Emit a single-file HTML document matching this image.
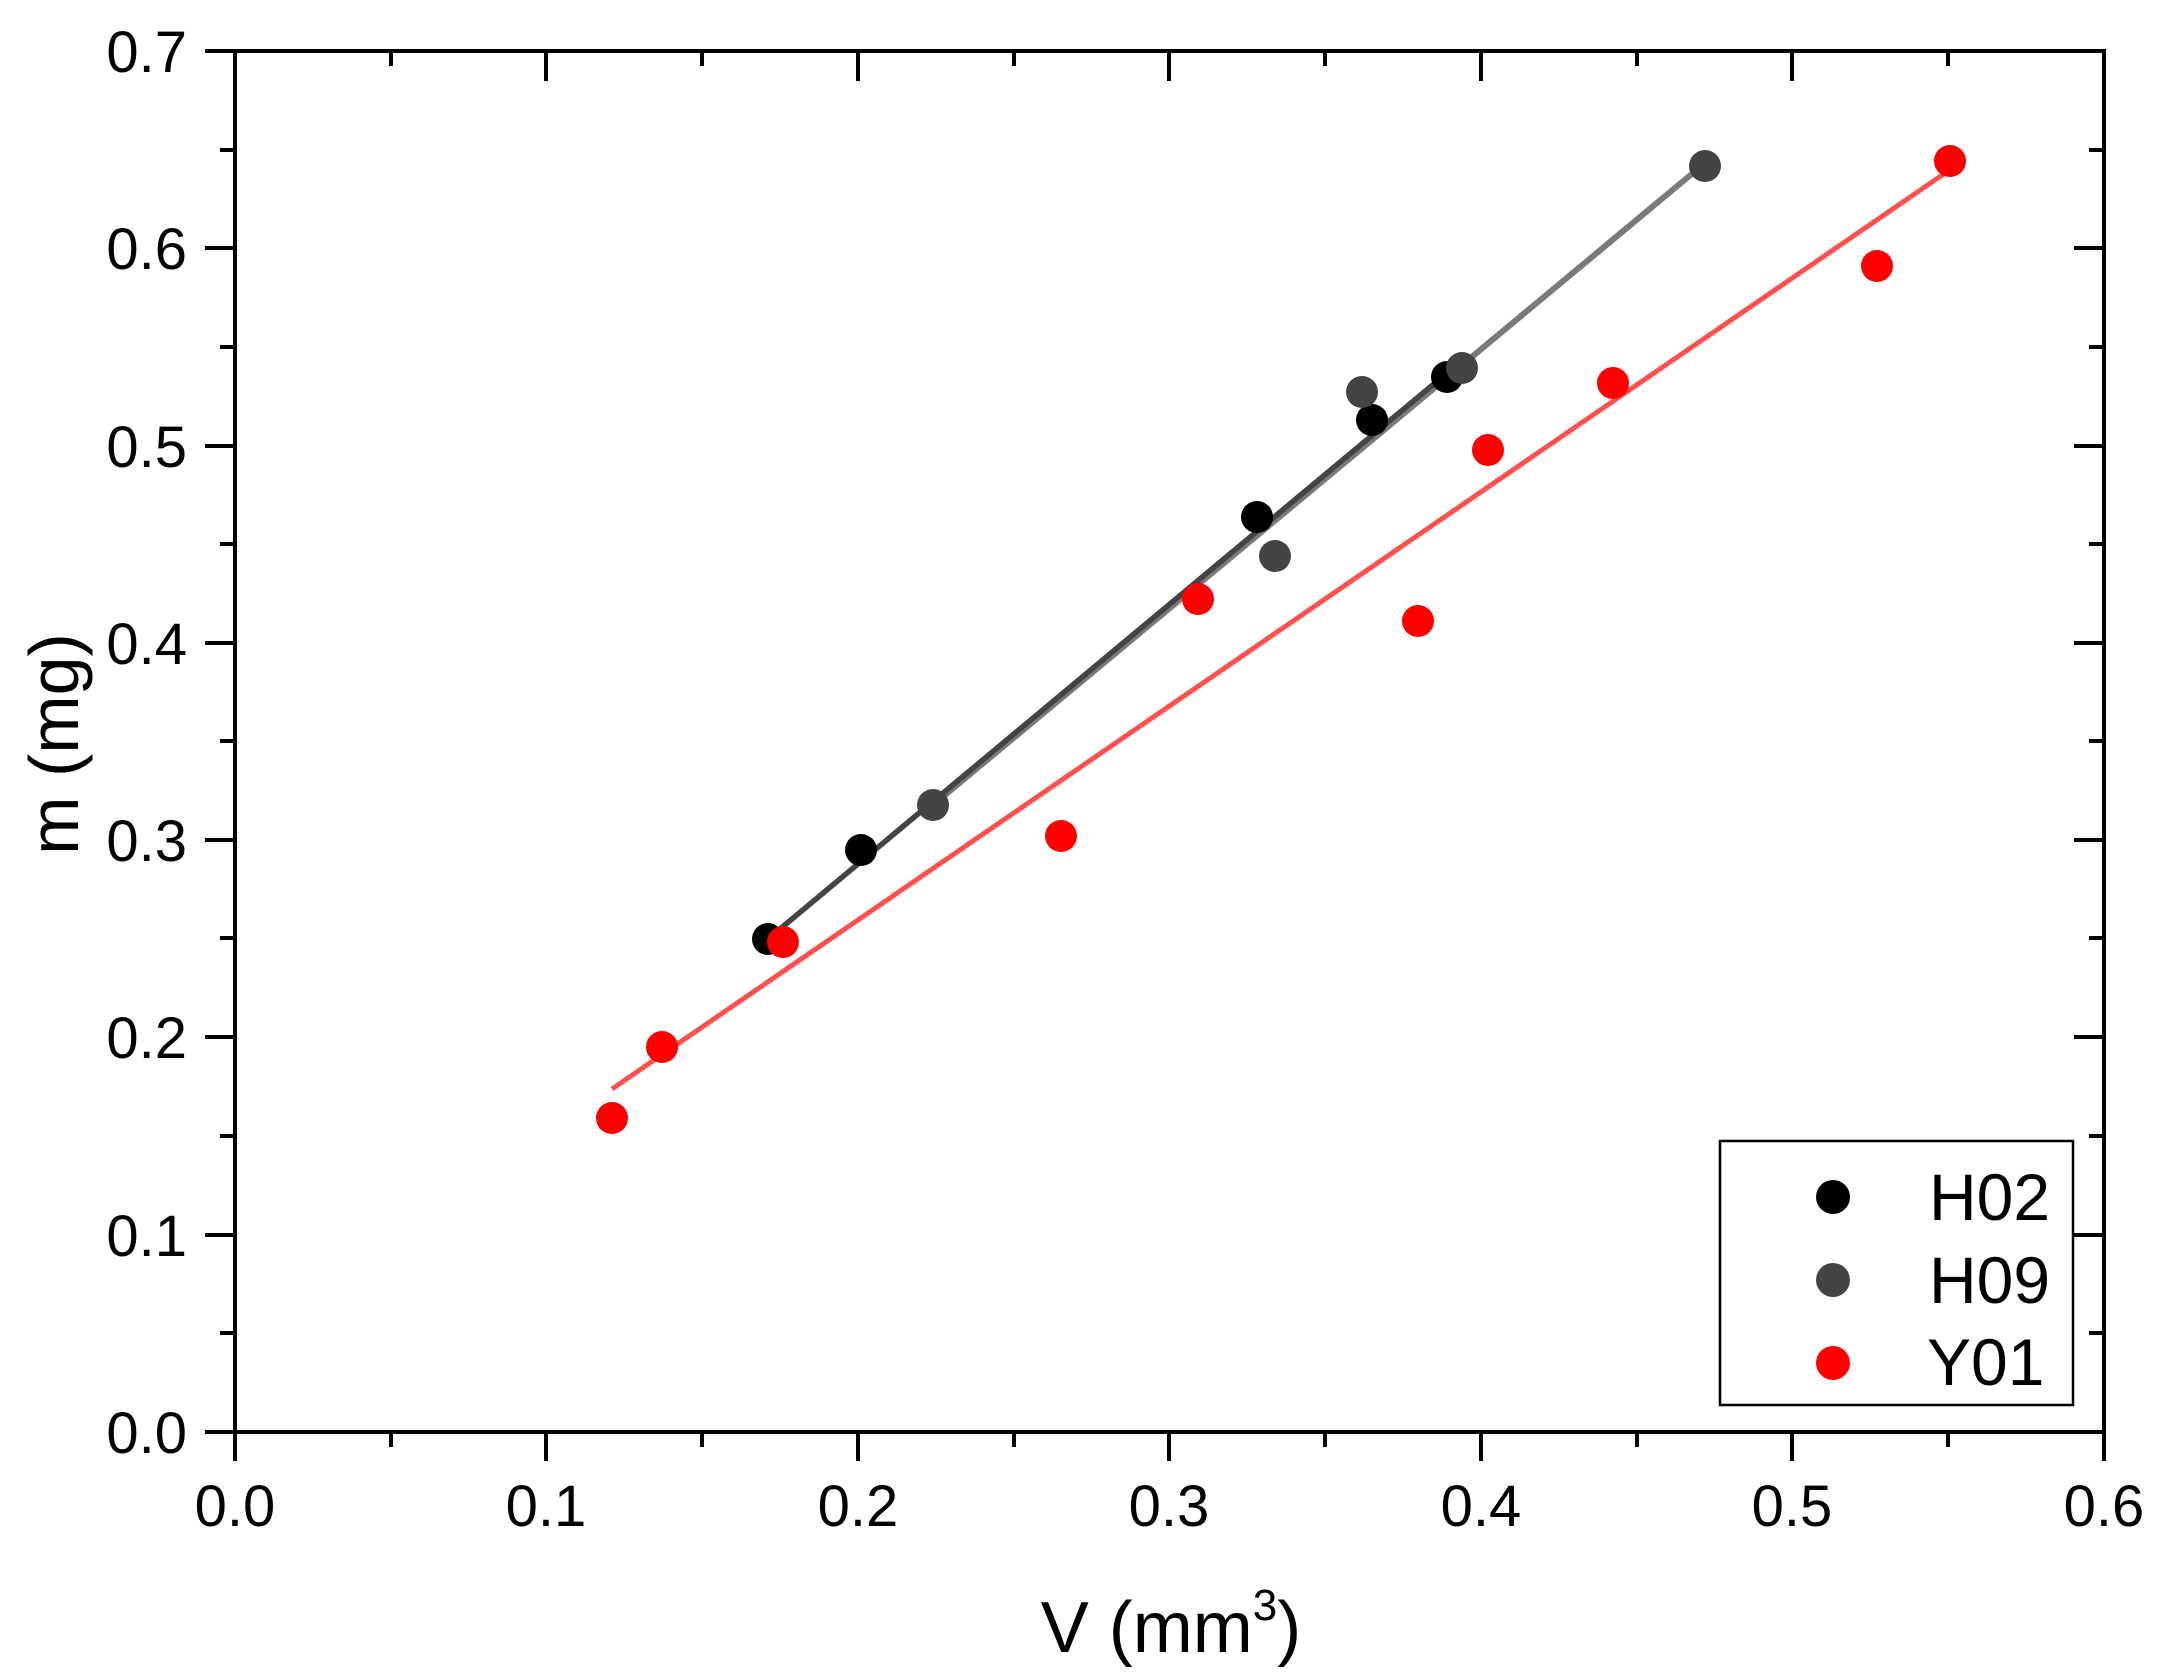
<!DOCTYPE html>
<html><head><meta charset="utf-8"><style>
html,body{margin:0;padding:0;background:#fff;}
svg{display:block;}
text{font-family:"Liberation Sans",Arial,sans-serif;fill:#000;}
</style></head><body>
<svg width="2160" height="1678" viewBox="0 0 2160 1678" xmlns="http://www.w3.org/2000/svg">
<rect width="2160" height="1678" fill="#fff"/>
<line x1="933" y1="805" x2="1705" y2="163" stroke="#7a7a7a" stroke-width="6"/>
<line x1="768" y1="939" x2="1447" y2="373" stroke="#444" stroke-width="5.5"/>
<line x1="612" y1="1089" x2="1951" y2="169" stroke="#ff5050" stroke-width="5"/>
<g fill="#000">
<circle cx="768" cy="939" r="16"/>
<circle cx="861" cy="850" r="16"/>
<circle cx="1257" cy="517" r="16"/>
<circle cx="1372" cy="420" r="16"/>
<circle cx="1447" cy="377" r="16"/>
</g>
<g fill="#444">
<circle cx="933" cy="805" r="16"/>
<circle cx="1275" cy="556" r="16"/>
<circle cx="1362" cy="392" r="16"/>
<circle cx="1462" cy="368" r="16"/>
<circle cx="1705" cy="166" r="16"/>
</g>
<g fill="#ff0000">
<circle cx="612" cy="1118" r="16"/>
<circle cx="662" cy="1047" r="16"/>
<circle cx="783" cy="942" r="16"/>
<circle cx="1061" cy="836" r="16"/>
<circle cx="1198" cy="599" r="16"/>
<circle cx="1418" cy="621" r="16"/>
<circle cx="1488" cy="450" r="16"/>
<circle cx="1613" cy="383" r="16"/>
<circle cx="1877" cy="266" r="16"/>
<circle cx="1950" cy="161" r="16"/>
</g>
<rect x="235" y="51" width="1869" height="1381" fill="none" stroke="#000" stroke-width="4"/>
<g stroke="#000" stroke-width="4">
<line x1="205" y1="1432" x2="235" y2="1432"/><line x1="220" y1="1333" x2="235" y2="1333"/>
<line x1="205" y1="1235" x2="235" y2="1235"/><line x1="220" y1="1136" x2="235" y2="1136"/>
<line x1="205" y1="1037" x2="235" y2="1037"/><line x1="220" y1="938" x2="235" y2="938"/>
<line x1="205" y1="840" x2="235" y2="840"/><line x1="220" y1="741" x2="235" y2="741"/>
<line x1="205" y1="643" x2="235" y2="643"/><line x1="220" y1="544" x2="235" y2="544"/>
<line x1="205" y1="446" x2="235" y2="446"/><line x1="220" y1="347" x2="235" y2="347"/>
<line x1="205" y1="248" x2="235" y2="248"/><line x1="220" y1="150" x2="235" y2="150"/>
<line x1="205" y1="51" x2="235" y2="51"/>
<line x1="2089" y1="1333" x2="2104" y2="1333"/><line x1="2074" y1="1235" x2="2104" y2="1235"/>
<line x1="2089" y1="1136" x2="2104" y2="1136"/><line x1="2074" y1="1037" x2="2104" y2="1037"/>
<line x1="2089" y1="938" x2="2104" y2="938"/><line x1="2074" y1="840" x2="2104" y2="840"/>
<line x1="2089" y1="741" x2="2104" y2="741"/><line x1="2074" y1="643" x2="2104" y2="643"/>
<line x1="2089" y1="544" x2="2104" y2="544"/><line x1="2074" y1="446" x2="2104" y2="446"/>
<line x1="2089" y1="347" x2="2104" y2="347"/><line x1="2074" y1="248" x2="2104" y2="248"/>
<line x1="2089" y1="150" x2="2104" y2="150"/>
<line x1="235" y1="1432" x2="235" y2="1461"/><line x1="391" y1="1432" x2="391" y2="1447"/>
<line x1="546" y1="1432" x2="546" y2="1461"/><line x1="702" y1="1432" x2="702" y2="1447"/>
<line x1="858" y1="1432" x2="858" y2="1461"/><line x1="1014" y1="1432" x2="1014" y2="1447"/>
<line x1="1169" y1="1432" x2="1169" y2="1461"/><line x1="1325" y1="1432" x2="1325" y2="1447"/>
<line x1="1481" y1="1432" x2="1481" y2="1461"/><line x1="1637" y1="1432" x2="1637" y2="1447"/>
<line x1="1792" y1="1432" x2="1792" y2="1461"/><line x1="1948" y1="1432" x2="1948" y2="1447"/>
<line x1="2104" y1="1432" x2="2104" y2="1461"/>
<line x1="391" y1="51" x2="391" y2="66"/><line x1="546" y1="51" x2="546" y2="81"/>
<line x1="702" y1="51" x2="702" y2="66"/><line x1="858" y1="51" x2="858" y2="81"/>
<line x1="1014" y1="51" x2="1014" y2="66"/><line x1="1169" y1="51" x2="1169" y2="81"/>
<line x1="1325" y1="51" x2="1325" y2="66"/><line x1="1481" y1="51" x2="1481" y2="81"/>
<line x1="1637" y1="51" x2="1637" y2="66"/><line x1="1792" y1="51" x2="1792" y2="81"/>
<line x1="1948" y1="51" x2="1948" y2="66"/>
</g>
<g font-size="58" text-anchor="end">
<text x="187" y="1453">0.0</text><text x="187" y="1256">0.1</text>
<text x="187" y="1058">0.2</text><text x="187" y="861">0.3</text>
<text x="187" y="664">0.4</text><text x="187" y="467">0.5</text>
<text x="187" y="269">0.6</text><text x="187" y="72">0.7</text>
</g>
<g font-size="58" text-anchor="middle">
<text x="235" y="1526">0.0</text><text x="546" y="1526">0.1</text>
<text x="858" y="1526">0.2</text><text x="1169" y="1526">0.3</text>
<text x="1481" y="1526">0.4</text><text x="1792" y="1526">0.5</text>
<text x="2104" y="1526">0.6</text>
</g>
<text x="1171" y="1652" font-size="72" text-anchor="middle">V (mm<tspan font-size="44" dy="-32">3</tspan><tspan dy="32">)</tspan></text>
<text transform="translate(78,744) rotate(-90)" font-size="70" text-anchor="middle">m (mg)</text>
<rect x="1720" y="1141" width="353" height="264" fill="#fff" stroke="#000" stroke-width="2.5"/>
<circle cx="1833" cy="1197" r="17" fill="#000"/>
<circle cx="1833" cy="1280" r="17" fill="#444"/>
<circle cx="1833" cy="1363" r="17" fill="#ff0000"/>
<g font-size="66">
<text x="1929" y="1220">H02</text>
<text x="1929" y="1303">H09</text>
<text x="1927" y="1385">Y01</text>
</g>
</svg>
</body></html>
